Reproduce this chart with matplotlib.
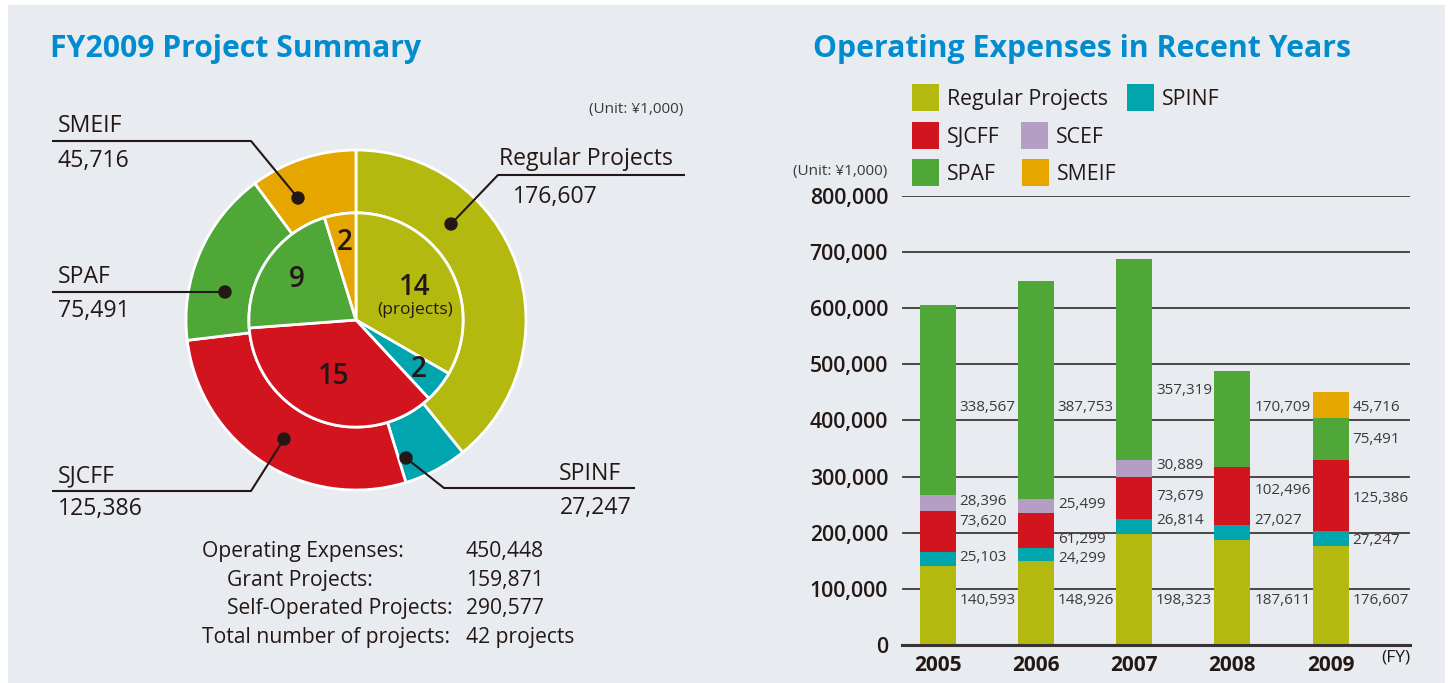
import matplotlib
matplotlib.use("Agg")
import matplotlib.pyplot as plt
from matplotlib.patches import Rectangle, Circle
import numpy as np

plt.rcParams['font.family'] = ['Open Sans', 'DejaVu Sans']

# ---------------- data ----------------
pie_labels = ["Regular Projects", "SPINF", "SJCFF", "SPAF", "SMEIF"]
pie_values = [176607, 27247, 125386, 75491, 45716]
pie_value_text = ["176,607", "27,247", "125,386", "75,491", "45,716"]
project_counts = [14, 2, 15, 9, 2]

years = ["2005", "2006", "2007", "2008", "2009"]
series_names = ["Regular Projects", "SPINF", "SJCFF", "SCEF", "SPAF", "SMEIF"]
regular = [140593, 148926, 198323, 187611, 176607]
spinf = [25103, 24299, 26814, 27027, 27247]
sjcff = [73620, 61299, 73679, 102496, 125386]
scef = [28396, 25499, 30889, 0, 0]
spaf = [338567, 387753, 357319, 170709, 75491]
smeif = [0, 0, 0, 0, 45716]
y_ticks = [0, 100000, 200000, 300000, 400000, 500000, 600000, 700000, 800000]

summary_rows = [("Operating Expenses:", "450,448"),
                ("Grant Projects:", "159,871"),
                ("Self-Operated Projects:", "290,577"),
                ("Total number of projects:", "42 projects")]

# label vertical positions (data units) for bar value labels, per series / year
label_pos = {
    "Regular Projects": [79000, 79000, 79000, 79000, 79000],
    "SPINF": [155500, 154400, 221000, 221000, 186000],
    "SJCFF": [220000, 188000, 264000, 275000, 261000],
    "SCEF": [255000, 250600, 320700, None, None],
    "SPAF": [424000, 424000, 453000, 424000, 366500],
    "SMEIF": [None, None, None, None, 424000],
}

# ---------------- styles ----------------
colors = {
    "Regular Projects": "#b4b90f",
    "SPINF": "#00a5ad",
    "SJCFF": "#d2141e",
    "SCEF": "#b49ec4",
    "SPAF": "#4ea736",
    "SMEIF": "#e6a600",
}
TXT = "#231815"
BLUE = "#008ccf"
BG = "#e8ebf0"
W, H = 1448, 683

fig = plt.figure(figsize=(W / 100, H / 100), dpi=100, facecolor="white")

# overlay axes in pixel coordinates
ov = fig.add_axes([0, 0, 1, 1], zorder=0)
ov.set_xlim(0, W)
ov.set_ylim(H, 0)
ov.axis("off")
ov.add_patch(Rectangle((8, 5), 1437, 678, facecolor=BG, edgecolor="none"))

# ---------------- pie ----------------
cx, cy, R = 356, 320, 170
pax = fig.add_axes([(cx - R) / W, (H - cy - R) / H, 2 * R / W, 2 * R / H], zorder=2)
pax.axis("off")
pcols = [colors[n] for n in pie_labels]
pax.pie(pie_values, colors=pcols, radius=1.0, startangle=90, counterclock=False,
        wedgeprops=dict(width=0.37, edgecolor="white", linewidth=2))
pax.pie(project_counts, colors=pcols, radius=0.63, startangle=90, counterclock=False,
        wedgeprops=dict(edgecolor="white", linewidth=2))
pax.set_xlim(-1, 1)
pax.set_ylim(-1, 1)
pax.set_aspect("auto")

top = fig.add_axes([0, 0, 1, 1], zorder=3)
top.set_xlim(0, W)
top.set_ylim(H, 0)
top.axis("off")

# inner numbers placed at wedge mid-angles (clockwise from 12 o'clock)
counts = np.array(project_counts, dtype=float)
edges = np.concatenate([[0], np.cumsum(counts)]) / counts.sum() * 360
mids = (edges[:-1] + edges[1:]) / 2
label_r = [0.40, 0.47, 0.36, 0.42, 0.46]
for k, (cnt, m, r) in enumerate(zip(project_counts, mids, label_r)):
    a = np.deg2rad(m)
    x = cx + r * R * np.sin(a)
    y = cy - r * R * np.cos(a)
    if k == 0:
        top.text(x, y + 9, str(cnt), fontsize=20, fontweight="semibold", color=TXT,
                 ha="center", va="baseline")
        top.text(x, y + 28, "(projects)", fontsize=12.5, color=TXT, ha="center", va="baseline")
    else:
        top.text(x, y, str(cnt), fontsize=20, fontweight="semibold", color=TXT,
                 ha="center", va="center")

# leader lines & dots
lk = dict(color=TXT, lw=1.5, solid_capstyle="butt")
leaders = {
    "Regular Projects": [(685, 175), (498, 175), (451, 224)],
    "SPINF": [(635, 488), (444, 488), (406, 458)],
    "SJCFF": [(52, 491), (251, 491), (284, 439)],
    "SPAF": [(52, 292), (225, 292)],
    "SMEIF": [(52, 141), (251, 141), (298, 198)],
}
for name, pts in leaders.items():
    xs, ys = zip(*pts)
    top.plot(xs, ys, **lk)
    top.add_patch(Circle(pts[-1], 6, color=TXT, zorder=5))

fs_lab = 16.6
idx = {n: i for i, n in enumerate(pie_labels)}
top.text(499, 165, "Regular Projects", fontsize=fs_lab, color=TXT, ha="left", va="baseline")
top.text(513, 203, pie_value_text[idx["Regular Projects"]], fontsize=fs_lab, color=TXT, ha="left", va="baseline")
top.text(621, 480, "SPINF", fontsize=fs_lab, color=TXT, ha="right", va="baseline")
top.text(632, 514, pie_value_text[idx["SPINF"]], fontsize=fs_lab, color=TXT, ha="right", va="baseline")
top.text(58, 482, "SJCFF", fontsize=fs_lab, color=TXT, ha="left", va="baseline")
top.text(58, 515, pie_value_text[idx["SJCFF"]], fontsize=fs_lab, color=TXT, ha="left", va="baseline")
top.text(58, 283, "SPAF", fontsize=fs_lab, color=TXT, ha="left", va="baseline")
top.text(58, 317, pie_value_text[idx["SPAF"]], fontsize=fs_lab, color=TXT, ha="left", va="baseline")
top.text(58, 132, "SMEIF", fontsize=fs_lab, color=TXT, ha="left", va="baseline")
top.text(58, 167, pie_value_text[idx["SMEIF"]], fontsize=fs_lab, color=TXT, ha="left", va="baseline")

top.text(683, 113, "(Unit: \u00a51,000)", fontsize=11, color="#3a3a3a", ha="right", va="baseline")

# titles
top.text(50, 57, "FY2009 Project Summary", fontsize=21.7, fontweight="bold", color=BLUE,
         ha="left", va="baseline")
top.text(813, 57, "Operating Expenses in Recent Years", fontsize=21.8, fontweight="bold", color=BLUE,
         ha="left", va="baseline")

# summary block
sx = [202, 227, 227, 202]
sy = [557, 586, 614, 643]
for (lab, val), x, y in zip(summary_rows, sx, sy):
    top.text(x, y, lab, fontsize=15.2, color=TXT, ha="left", va="baseline")
    top.text(466, y, val, fontsize=15.2, color=TXT, ha="left", va="baseline")

# ---------------- bar chart ----------------
bx0, bx1 = 902, 1410
by0, by1 = 645, 196
bax = fig.add_axes([bx0 / W, (H - by0) / H, (bx1 - bx0) / W, (by0 - by1) / H], zorder=1)
bax.patch.set_alpha(0)
step = 98.3
c0 = 937.5
bax.set_xlim((bx0 - c0) / step, (bx1 - c0) / step)
bax.set_ylim(0, 800000)
for s in bax.spines.values():
    s.set_visible(False)
for t in y_ticks[1:]:
    bax.axhline(t, color="#4d4446", lw=1.4, zorder=0)
bax.axhline(0, color="#3a3234", lw=2.2, zorder=3, clip_on=False)

xs = np.arange(len(years))
series = [regular, spinf, sjcff, scef, spaf, smeif]
bottom = np.zeros(len(years))
bw = 36 / step
for name, vals in zip(series_names, series):
    v = np.array(vals, dtype=float)
    bax.bar(xs, v, width=bw, bottom=bottom, color=colors[name], zorder=2, linewidth=0)
    for i, val in enumerate(vals):
        pos = label_pos[name][i]
        if val > 0 and pos is not None:
            bax.text(i + bw / 2 + 4 / step, pos, f"{val:,}", fontsize=11, color="#3a3a3a",
                     ha="left", va="center", zorder=4)
    bottom += v

bax.set_yticks(y_ticks)
bax.set_yticklabels([f"{t:,}" for t in y_ticks], fontsize=15.3, color=TXT, fontweight="semibold")
bax.tick_params(axis="y", length=0, pad=10)
bax.set_xticks(xs)
bax.set_xticklabels(years, fontsize=15, fontweight="bold", color=TXT)
bax.tick_params(axis="x", length=0, pad=7)

top.text(1410, 657, "(FY)", fontsize=12.5, color=TXT, ha="right", va="center")
top.text(887, 175, "(Unit: \u00a51,000)", fontsize=11, color="#3a3a3a", ha="right", va="baseline")

# legend (manual)
legend_items = [("Regular Projects", 912, 84), ("SPINF", 1127, 84),
                ("SJCFF", 912, 122), ("SCEF", 1021, 122),
                ("SPAF", 912, 159), ("SMEIF", 1022, 159)]
for name, x, y in legend_items:
    top.add_patch(Rectangle((x, y), 27, 27, facecolor=colors[name], edgecolor="none"))
    top.text(x + 35, y + 21, name, fontsize=15.3, color=TXT, ha="left", va="baseline")

fig.savefig("out.png", dpi=100, facecolor="white")
